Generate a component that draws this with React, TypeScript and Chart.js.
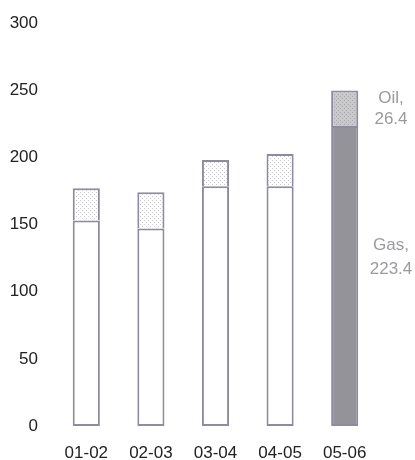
import React, { useEffect, useRef } from "react";
import { Chart, registerables } from "chart.js";

Chart.register(...registerables);

const categories = ["01-02", "02-03", "03-04", "04-05", "05-06"];
const gasValues = [153, 147, 178.5, 178.5, 223.4];
const oilValues = [24, 27, 19.5, 24, 26.4];
const yTicks = [0, 50, 100, 150, 200, 250, 300];
const oilLabel = ["Oil,", "26.4"];
const gasLabel = ["Gas,", "223.4"];

function makePattern(bg: string, dot: string): CanvasPattern | string {
  const c = document.createElement("canvas");
  c.width = 4;
  c.height = 4;
  const ctx = c.getContext("2d");
  if (!ctx) return bg;
  ctx.fillStyle = bg;
  ctx.fillRect(0, 0, 4, 4);
  ctx.fillStyle = dot;
  ctx.fillRect(0, 0, 1, 1);
  ctx.fillRect(2, 2, 1, 1);
  const p = ctx.createPattern(c, "repeat");
  return p || bg;
}

const FONT = "'Liberation Sans', Arial, sans-serif";

export default function App() {
  const ref = useRef<HTMLCanvasElement | null>(null);

  useEffect(() => {
    document.body.style.margin = "0";
    const canvas = ref.current;
    if (!canvas) return;
    const light = makePattern("#ffffff", "#c8c8cc");
    const dark = makePattern("#c9c9cc", "#a8a8ac");
    const border = "#8e8aa0";

    const sideLabelPlugin = {
      id: "sideLabels",
      afterDatasetsDraw(chart: any) {
        const ctx = chart.ctx;
        const y = chart.scales.y;
        const last = categories.length - 1;
        ctx.save();
        ctx.fillStyle = "#9a9a9e";
        ctx.font = "17px " + FONT;
        ctx.textAlign = "center";
        ctx.textBaseline = "middle";
        const x = 391;
        const oilTop = y.getPixelForValue(gasValues[last] + oilValues[last]);
        ctx.fillText(oilLabel[0], x, oilTop + 8);
        ctx.fillText(oilLabel[1], x, oilTop + 29);
        const gasTop = y.getPixelForValue(gasValues[last]);
        ctx.fillText(gasLabel[0], x, gasTop + 119);
        ctx.fillText(gasLabel[1], x, gasTop + 143);
        ctx.restore();
      },
    };

    const chart = new Chart(canvas, {
      type: "bar",
      data: {
        labels: categories,
        datasets: [
          {
            label: "Gas",
            data: gasValues,
            backgroundColor: ["#ffffff", "#ffffff", "#ffffff", "#ffffff", "#939399"],
            borderColor: border,
            borderWidth: 2,
            borderSkipped: false,
            barPercentage: 0.42,
            categoryPercentage: 1,
          },
          {
            label: "Oil",
            data: oilValues,
            backgroundColor: [light, light, light, light, dark] as any,
            borderColor: border,
            borderWidth: 2,
            borderSkipped: "bottom",
            barPercentage: 0.42,
            categoryPercentage: 1,
          },
        ],
      },
      options: {
        animation: false,
        responsive: false,
        maintainAspectRatio: false,
        layout: { padding: { top: 23, right: 38, left: 0, bottom: 0 } },
        plugins: {
          legend: { display: false },
          tooltip: { enabled: false },
        },
        scales: {
          x: {
            stacked: true,
            grid: { display: false },
            border: { display: false },
            ticks: {
              color: "#222222",
              font: { family: FONT, size: 17 },
              padding: 9,
              maxRotation: 0,
            },
            afterFit(scale: any) {
              scale.height = 34;
            },
          },
          y: {
            stacked: true,
            min: 0,
            max: 300,
            grid: { display: false },
            border: { display: false },
            afterBuildTicks(scale: any) {
              scale.ticks = yTicks.map((v) => ({ value: v }));
            },
            ticks: {
              color: "#222222",
              font: { family: FONT, size: 17 },
              padding: 8,
            },
            afterFit(scale: any) {
              scale.width = 54;
            },
          },
        },
      },
      plugins: [sideLabelPlugin],
    });
    return () => chart.destroy();
  }, []);

  return (
    <div style={{ width: 415, height: 460 }}>
      <canvas ref={ref} width={415} height={460} style={{ display: "block" }} />
    </div>
  );
}
